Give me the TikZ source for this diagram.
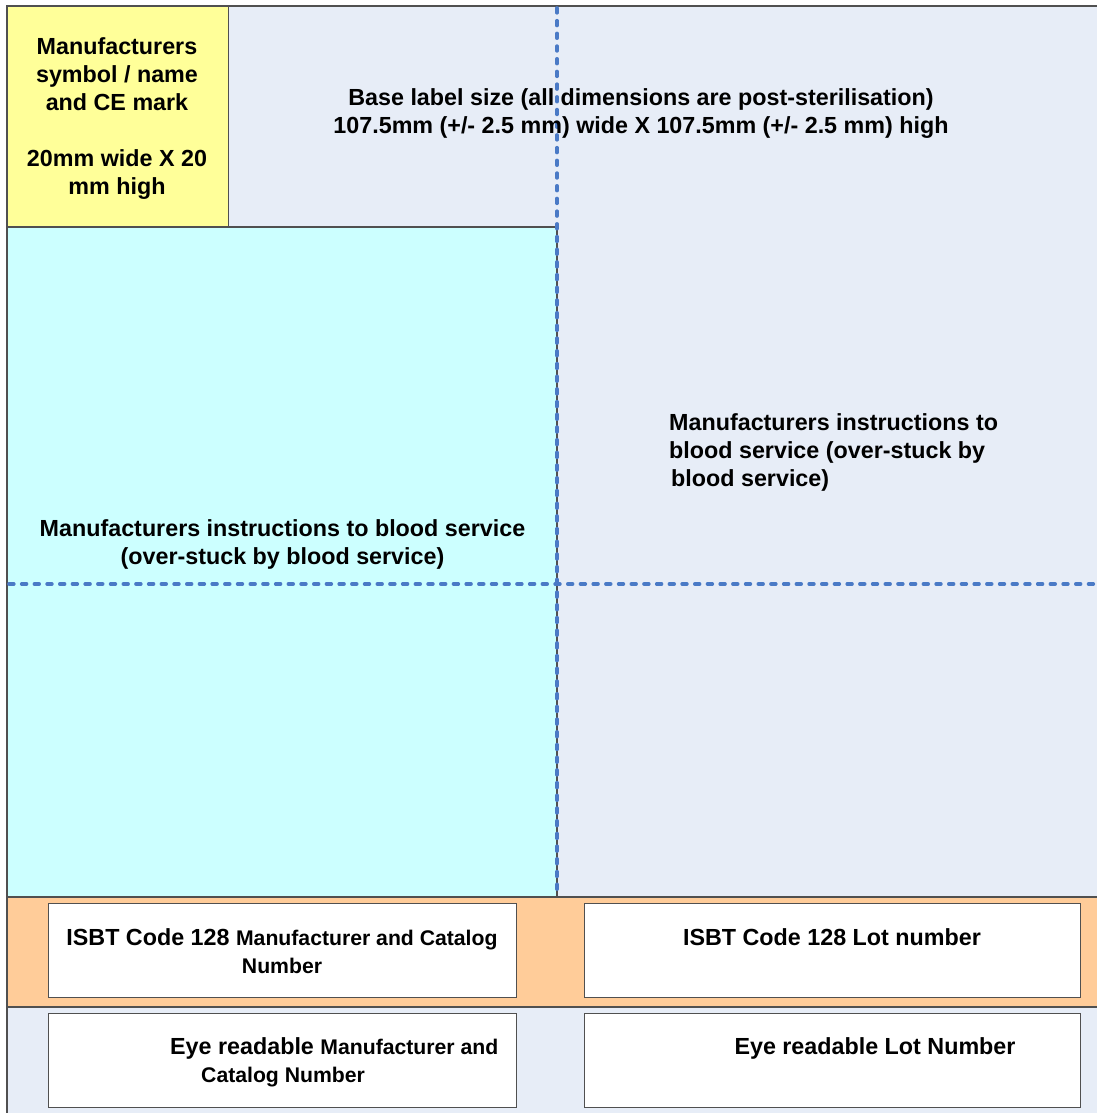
\documentclass[tikz,border=0pt]{standalone}
\usepackage{fontspec}
\setmainfont{Liberation Sans}
\definecolor{basebg}{HTML}{E7EDF7}
\definecolor{yel}{HTML}{FFFF99}
\definecolor{cyanbg}{HTML}{CCFFFF}
\definecolor{orng}{HTML}{FFCC99}
\definecolor{dotblue}{HTML}{4A7AC6}
\definecolor{edge}{HTML}{505050}
\newcommand{\smf}{\fontsize{21.2}{28}\selectfont}
\begin{document}
\begin{tikzpicture}[x=1pt,y=-1pt,
  areabox/.style={draw=edge, line width=1.2pt},
  whitebox/.style={draw=edge, line width=1pt, fill=white},
  dotline/.style={draw=dotblue, line width=3.6pt, line cap=round, dash pattern=on 4.8pt off 7.9pt},
  big/.style={font=\fontsize{23.3}{28}\selectfont\bfseries, text=black, inner sep=0pt},
]
\useasboundingbox (0,0) rectangle (1096,1113);
% base label
\path[areabox, fill=basebg] (7,6) rectangle (1110,1125);
% yellow box
\node[areabox, fill=yel, minimum width=221pt, minimum height=221pt, anchor=north west, inner sep=0pt] (yb) at (7,6) {};
% cyan box
\path[areabox, fill=cyanbg] (7,227) rectangle (557,897);
% orange band
\path[areabox, fill=orng] (7,897) rectangle (1110,1007);
% white boxes
\path[whitebox] (48,903) rectangle (516,997);
\path[whitebox] (584,903) rectangle (1080,997);
\path[whitebox] (48,1013) rectangle (516,1107);
\path[whitebox] (584,1013) rectangle (1080,1107);
% dotted lines
\coordinate (vtop) at (557,8);
\coordinate (vbot) at (557,895);
\coordinate (hl) at (9,584);
\coordinate (hr) at (1100,584);
\draw[dotline] (vtop) -- (vbot);
\draw[dotline] (hl) -- (hr);
% texts
\node[big, align=center] (tyel) at (117,119) {Manufacturers\\symbol / name\\and CE mark\\[28pt]20mm wide X 20\\mm high};
\node[big, align=center] (tbase) at (641,114) {Base label size (all dimensions are post-sterilisation)\\107.5mm (+/- 2.5 mm) wide X 107.5mm (+/- 2.5 mm) high};
\node[big, align=left, anchor=west] (tright) at (669,452) {Manufacturers instructions to\\blood service (over-stuck by\\\hspace*{2pt}blood service)};
\node[big, align=center] (tcyan) at (282.5,544) {Manufacturers instructions to blood service\\(over-stuck by blood service)};
\node[big, align=center] (tisbtl) at (282,951) {ISBT Code 128 {\smf Manufacturer and Catalog}\\{\smf Number}};
\node[big, align=center] (tisbtr) at (832,937) {ISBT Code 128 Lot number};
\node[big, align=left, anchor=west] (teyel) at (170,1062) {Eye readable {\smf Manufacturer and}\\\hspace*{31pt}{\smf Catalog Number}};
\node[big, align=center] (teyer) at (875,1048) {Eye readable Lot Number};
\end{tikzpicture}
\end{document}
